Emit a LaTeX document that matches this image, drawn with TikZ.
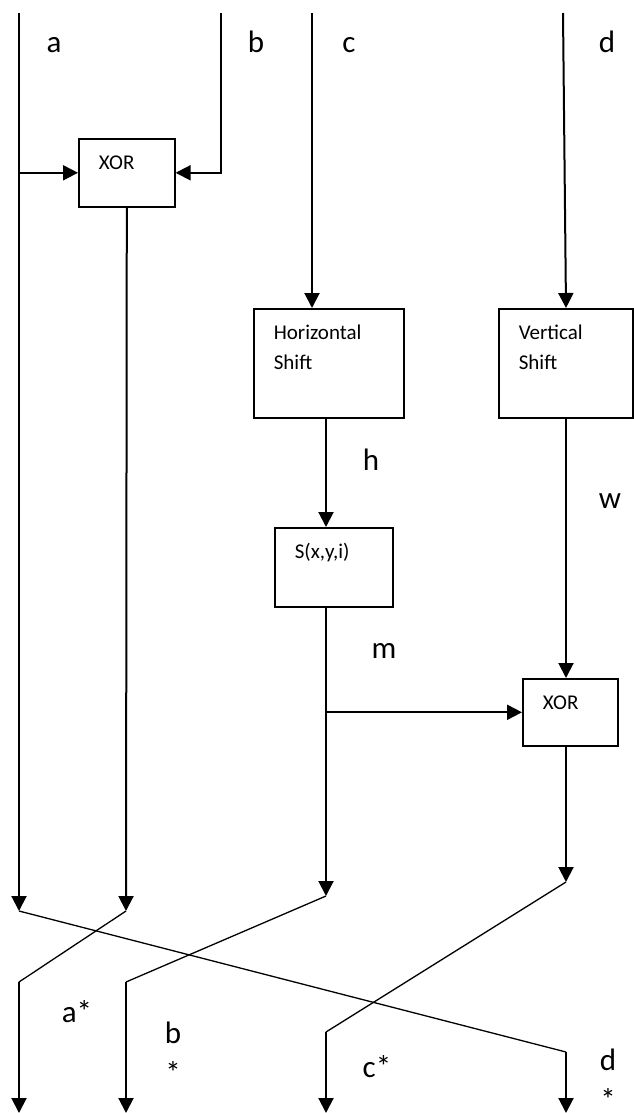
\documentclass[tikz,border=0pt]{standalone}
\usepackage{fontspec}
\setmainfont{Carlito}
\usetikzlibrary{arrows.meta}

\begin{document}
\begin{tikzpicture}[
  x=0.5pt, y=-0.5pt,
  block/.style={draw, line width=0.8pt, anchor=north west, align=left,
                inner xsep=10pt, inner ysep=0pt, text height=15.5pt,
                font=\fontsize{10.5}{15}\selectfont},
  tag/.style={anchor=base, align=center, inner sep=0pt,
              font=\fontsize{15.5}{20}\selectfont},
  flow/.style={line width=1pt, -{Triangle[length=7.5pt, width=7.5pt]}},
  wire/.style={line width=0.65pt},
]
\useasboundingbox (0,0) rectangle (633,1113);

\node[block, text width=28pt, text depth=18.5pt] (xora) at (78,138) {XOR};
\node[block, text width=55pt, text depth=39pt] (hshift) at (253,308) {Horizontal\\Shift};
\node[block, text width=47pt, text depth=39pt] (vshift) at (498,308) {Vertical\\Shift};
\node[block, text width=39pt, text depth=24pt] (sfun) at (274,527) {S(x,y,i)};
\node[block, text width=27.5pt, text depth=18pt] (xorb) at (522,678) {XOR};

\node[tag] (la) at (54,53) {a};
\node[tag] (lb) at (256,53) {b};
\node[tag] (lc) at (349,53) {c};
\node[tag] (ld) at (607,53) {d};
\node[tag] (lh) at (371,470) {h};
\node[tag] (lw) at (610,508) {w};
\node[tag] (lm) at (384,658) {m};
\node[tag] (las) at (77,1022) {a*};
\node[tag] (lbs) at (173,1083) {b\\*};
\node[tag] (lcs) at (377,1077) {c*};
\node[tag, text depth=0pt] (lds) at (608,1110) {d\\*};

\coordinate (ain) at (19,13);
\coordinate (bin) at (221,13);
\coordinate (cin) at (312,13);
\coordinate (din) at (563,13);
\coordinate (aout) at (19,911);
\coordinate (bout) at (126,911);
\coordinate (cout) at (326,896);
\coordinate (dout) at (566,882);
\coordinate (abend) at (19,982);
\coordinate (bbend) at (126,982);
\coordinate (cbend) at (326,1032);
\coordinate (dbend) at (566,1052);
\coordinate (afin) at (19,1113);
\coordinate (bfin) at (126,1113);
\coordinate (cfin) at (326,1113);
\coordinate (dfin) at (566,1113);

\draw[flow] (ain) -- (aout);
\draw[flow] (ain |- xora.west) -- (xora.west);
\draw[flow] (bin) |- (xora.east);
\draw[flow] (xora.south) -- (bout);

\draw[flow] (cin) -- (cin |- hshift.north);
\draw[flow] (cout |- hshift.south) -- (cout |- sfun.north);
\draw[flow] (cout |- sfun.south) -- (cout);
\draw[flow] (cout |- xorb.west) -- (xorb.west);

\draw[flow] (din) -- (dout |- vshift.north);
\draw[flow] (dout |- vshift.south) -- (dout |- xorb.north);
\draw[flow] (dout |- xorb.south) -- (dout);

\draw[wire] (aout) -- (dbend);
\draw[wire] (bout) -- (abend);
\draw[wire] (cout) -- (bbend);
\draw[wire] (dout) -- (cbend);

\draw[flow] (abend) -- (afin);
\draw[flow] (bbend) -- (bfin);
\draw[flow] (cbend) -- (cfin);
\draw[flow] (dbend) -- (dfin);
\end{tikzpicture}
\end{document}
